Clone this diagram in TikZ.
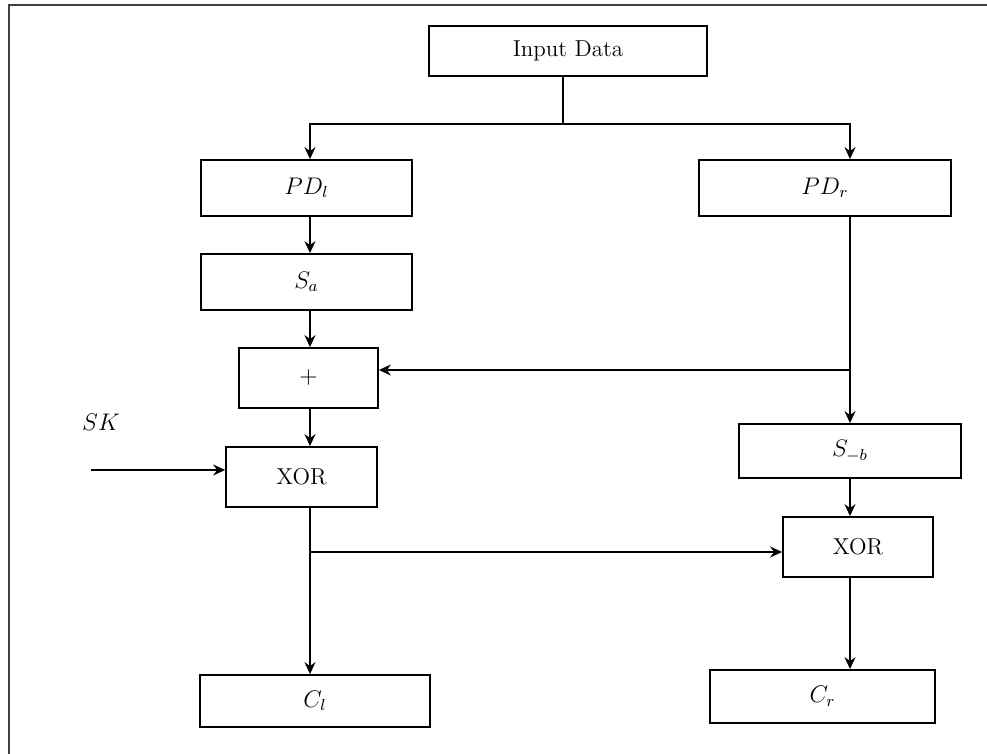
\documentclass[tikz,border=0pt]{standalone}
\usepackage{amsmath}
\usetikzlibrary{arrows.meta}
\begin{document}
\begin{tikzpicture}[x=0.5pt,y=-0.5pt,line width=0.75pt,>={Stealth[length=6pt,width=5.5pt,inset=2pt]},
 blk/.style={draw,line width=0.9pt,inner sep=0pt,font=\fontsize{11.5}{14}\selectfont}]
\useasboundingbox (0,0) rectangle (987,754);
\draw[line width=1.2pt,black!75](9,754)--(9,5)--(987,5);
\node[blk,minimum width=139pt,minimum height=25pt](in) at (568,51){Input Data};
\node[blk,minimum width=105.5pt,minimum height=28pt](pdl) at (306.5,188){$PD_l$};
\node[blk,minimum width=105.5pt,minimum height=28pt](sa) at (306.5,282){$S_a$};
\node[blk,minimum width=69.5pt,minimum height=30pt](plus) at (308.5,378){$+$};
\node[blk,minimum width=75.5pt,minimum height=30pt](xorl) at (301.5,477){XOR};
\node[blk,minimum width=115pt,minimum height=26pt](cl) at (315,701){$C_l$};
\node[blk,minimum width=126pt,minimum height=28pt](pdr) at (825,188){$PD_r$};
\node[blk,minimum width=111pt,minimum height=27pt](sb) at (850,451){$S_{-b}$};
\node[blk,minimum width=75pt,minimum height=30pt](xorr) at (858,547){XOR};
\node[blk,minimum width=112.5pt,minimum height=26.5pt](cr) at (822.5,696.5){$C_r$};
\node[font=\fontsize{11.5}{14}\selectfont](sklab) at (101,422){$SK$};
\coordinate (lx) at (310,0);
\coordinate (rx) at (850,0);
\coordinate (top) at (563,124);
\coordinate (jr) at (850,370);
\coordinate (jl) at (310,552);
\coordinate (sk) at (91,470);
\draw(in.south -| top)--(top);
\draw[->](top)-|(pdl.north -| lx);
\draw[->](top)-|(pdr.north -| rx);
\draw[->](pdl.south -| lx)--(sa.north -| lx);
\draw[->](sa.south -| lx)--(plus.north -| lx);
\draw[->](plus.south -| lx)--(xorl.north -| lx);
\draw[->](xorl.south -| lx)--(cl.north -| lx);
\draw[->](pdr.south -| rx)--(sb.north -| rx);
\draw[->](jr)--(plus.east |- jr);
\draw[->](sb.south -| rx)--(xorr.north -| rx);
\draw[->](xorr.south -| rx)--(cr.north -| rx);
\draw[->](jl)--(xorr.west |- jl);
\draw[->](sk)--(xorl.west |- sk);
\end{tikzpicture}
\end{document}
